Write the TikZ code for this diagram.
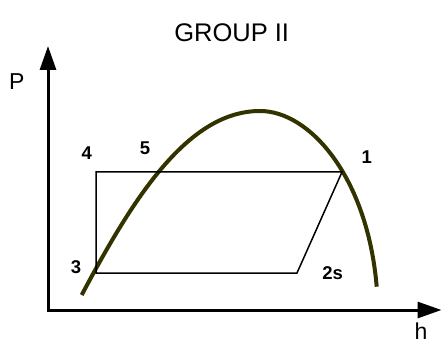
\documentclass[tikz,border=0pt]{standalone}
\usepackage{fontspec}
\setmainfont{Liberation Sans}
\usetikzlibrary{arrows.meta}
\definecolor{domecol}{HTML}{333300}
\begin{document}
\begin{tikzpicture}[x=1pt,y=-1pt,
  axis/.style={line width=3pt,{Triangle[length=24pt,width=16pt]}-{Triangle[length=24pt,width=16pt]}},
  cycleline/.style={line width=1.5pt,line join=miter},
  dome/.style={line width=4pt,domecol},
  ptlabel/.style={font=\fontsize{18.5}{20}\selectfont\bfseries,inner sep=0pt},
  axlabel/.style={font=\fontsize{23}{25}\selectfont,inner sep=0pt}]
\useasboundingbox (0,0) rectangle (442,342);
\fill[white] (0,0) rectangle (442,342);
% axes
\coordinate (O) at (48,310);
\coordinate (ytip) at (48,46);
\coordinate (xtip) at (441.5,310);
\draw[axis] (ytip) -- (O) -- (xtip);
\node[axlabel] (P) at (16.7,81.7) {P};
\node[axlabel,anchor=north] (h) at (421,322.5) {h};
\node[font=\fontsize{25.5}{28}\selectfont,inner sep=0pt] (title) at (231.7,32.7) {GROUP II};
% dome
\coordinate (dS) at (81.7,295);
\coordinate (dT) at (260,111);
\coordinate (dE) at (376.7,286.7);
\draw[dome] (dS) .. controls (133.2,197.8) and (188,111) .. (dT)
            .. controls (310,111) and (367.4,177.1) .. (dE);
% cycle
\coordinate (p1) at (342,172);
\coordinate (p2s) at (297,273);
\coordinate (p3) at (96,273);
\coordinate (p4) at (96,172);
\draw[cycleline] (p4) -- (p1) -- (p2s) -- (p3) -- cycle;
% labels
\node[ptlabel] (l4) at (86.7,153.3) {4};
\node[ptlabel] (l5) at (145,148.3) {5};
\node[ptlabel] (l1) at (366.7,156.7) {1};
\node[ptlabel] (l3) at (76,266.7) {3};
\node[ptlabel] (l2s) at (332.7,272.7) {2s};
\end{tikzpicture}
\end{document}
